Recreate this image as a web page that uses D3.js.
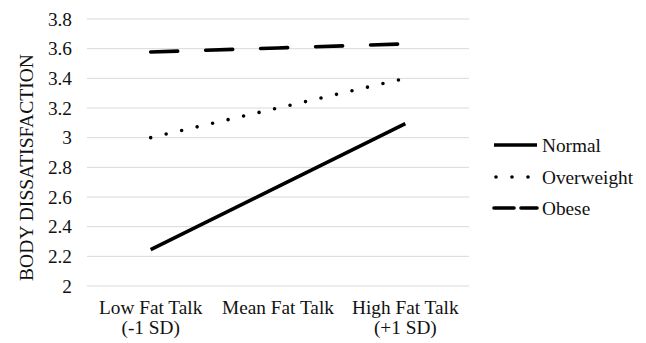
<!DOCTYPE html>
<html><head><meta charset="utf-8">
<script src="https://cdn.jsdelivr.net/npm/d3@7"></script>
<style>body{margin:0;background:#fff}svg{display:block}</style>
</head><body>
<script>
const categories = [["Low Fat Talk","(-1 SD)"],["Mean Fat Talk"],["High Fat Talk","(+1 SD)"]];
const catKeys = ["low","mean","high"];
const seriesNames = ["Normal","Overweight","Obese"];
const normal = [2.245, 2.67, 3.095];
const overweight = [3.0, 3.2, 3.4];
const obese = [3.578, 3.605, 3.632];
const yTicks = [2,2.2,2.4,2.6,2.8,3,3.2,3.4,3.6,3.8];
const yLabel = "BODY DISSATISFACTION";

const W=646,H=343;
const FONT="'Liberation Serif', 'Times New Roman', serif";
const svg=d3.select("body").append("svg").attr("width",W).attr("height",H)
  .attr("font-family",FONT).attr("fill","#111");
const x=d3.scaleBand().domain(catKeys).range([87,469]);
const y=d3.scaleLinear().domain([2,3.8]).range([286,19]);
const fs=19.3;

svg.append("g").selectAll("line").data(yTicks).join("line")
  .attr("x1",87).attr("x2",469).attr("y1",d=>y(d)).attr("y2",d=>y(d))
  .attr("stroke","#d9d9d9").attr("stroke-width",1);
svg.append("g").selectAll("text").data(yTicks).join("text")
  .attr("x",72).attr("y",d=>y(d)).attr("dy","0.35em").attr("text-anchor","end")
  .attr("font-size",fs).text(d=>d3.format("")(Math.round(d*10)/10));
svg.append("text").attr("transform",`translate(26,${(y(2)+y(3.8))/2+15}) rotate(-90)`)
  .attr("text-anchor","middle").attr("dy","0.35em").attr("font-size",19.6).text(yLabel);
const xl=svg.append("g");
catKeys.forEach((k,i)=>{
  const cx=x(k)+x.bandwidth()/2;
  const t=xl.append("text").attr("text-anchor","middle").attr("font-size",fs);
  categories[i].forEach((ln,j)=>{
    t.append("tspan").attr("x",cx).attr("y",314+j*19.5).text(ln);
  });
});

const styles={
  Normal:{dash:null,width:3.6,cap:"butt"},
  Overweight:{dash:"0,15.9",width:3.6,cap:"round"},
  Obese:{dash:"27,28",width:3.6,cap:"round"}
};
const data=[normal,overweight,obese];
const line=d3.line().x((d,i)=>x(catKeys[i])+x.bandwidth()/2).y(d=>y(d));
seriesNames.forEach((n,si)=>{
  const s=styles[n];
  const p=svg.append("path").datum(data[si]).attr("d",line).attr("fill","none")
    .attr("stroke","#000").attr("stroke-width",s.width).attr("stroke-linecap",s.cap);
  if(s.dash) p.attr("stroke-dasharray",s.dash);
});

const legY=[145,177,208];
const legDash={Normal:null,Overweight:"0,16",Obese:"20,7"};
seriesNames.forEach((n,i)=>{
  const s=styles[n];
  const l=svg.append("line").attr("x1",n==="Overweight"?496:494).attr("x2",537).attr("y1",legY[i]).attr("y2",legY[i])
    .attr("stroke","#000").attr("stroke-width",s.width).attr("stroke-linecap",s.cap);
  if(legDash[n]) l.attr("stroke-dasharray",legDash[n]);
  svg.append("text").attr("x",542).attr("y",legY[i]).attr("dy","0.35em").attr("font-size",fs).text(n);
});
</script>
</body></html>
